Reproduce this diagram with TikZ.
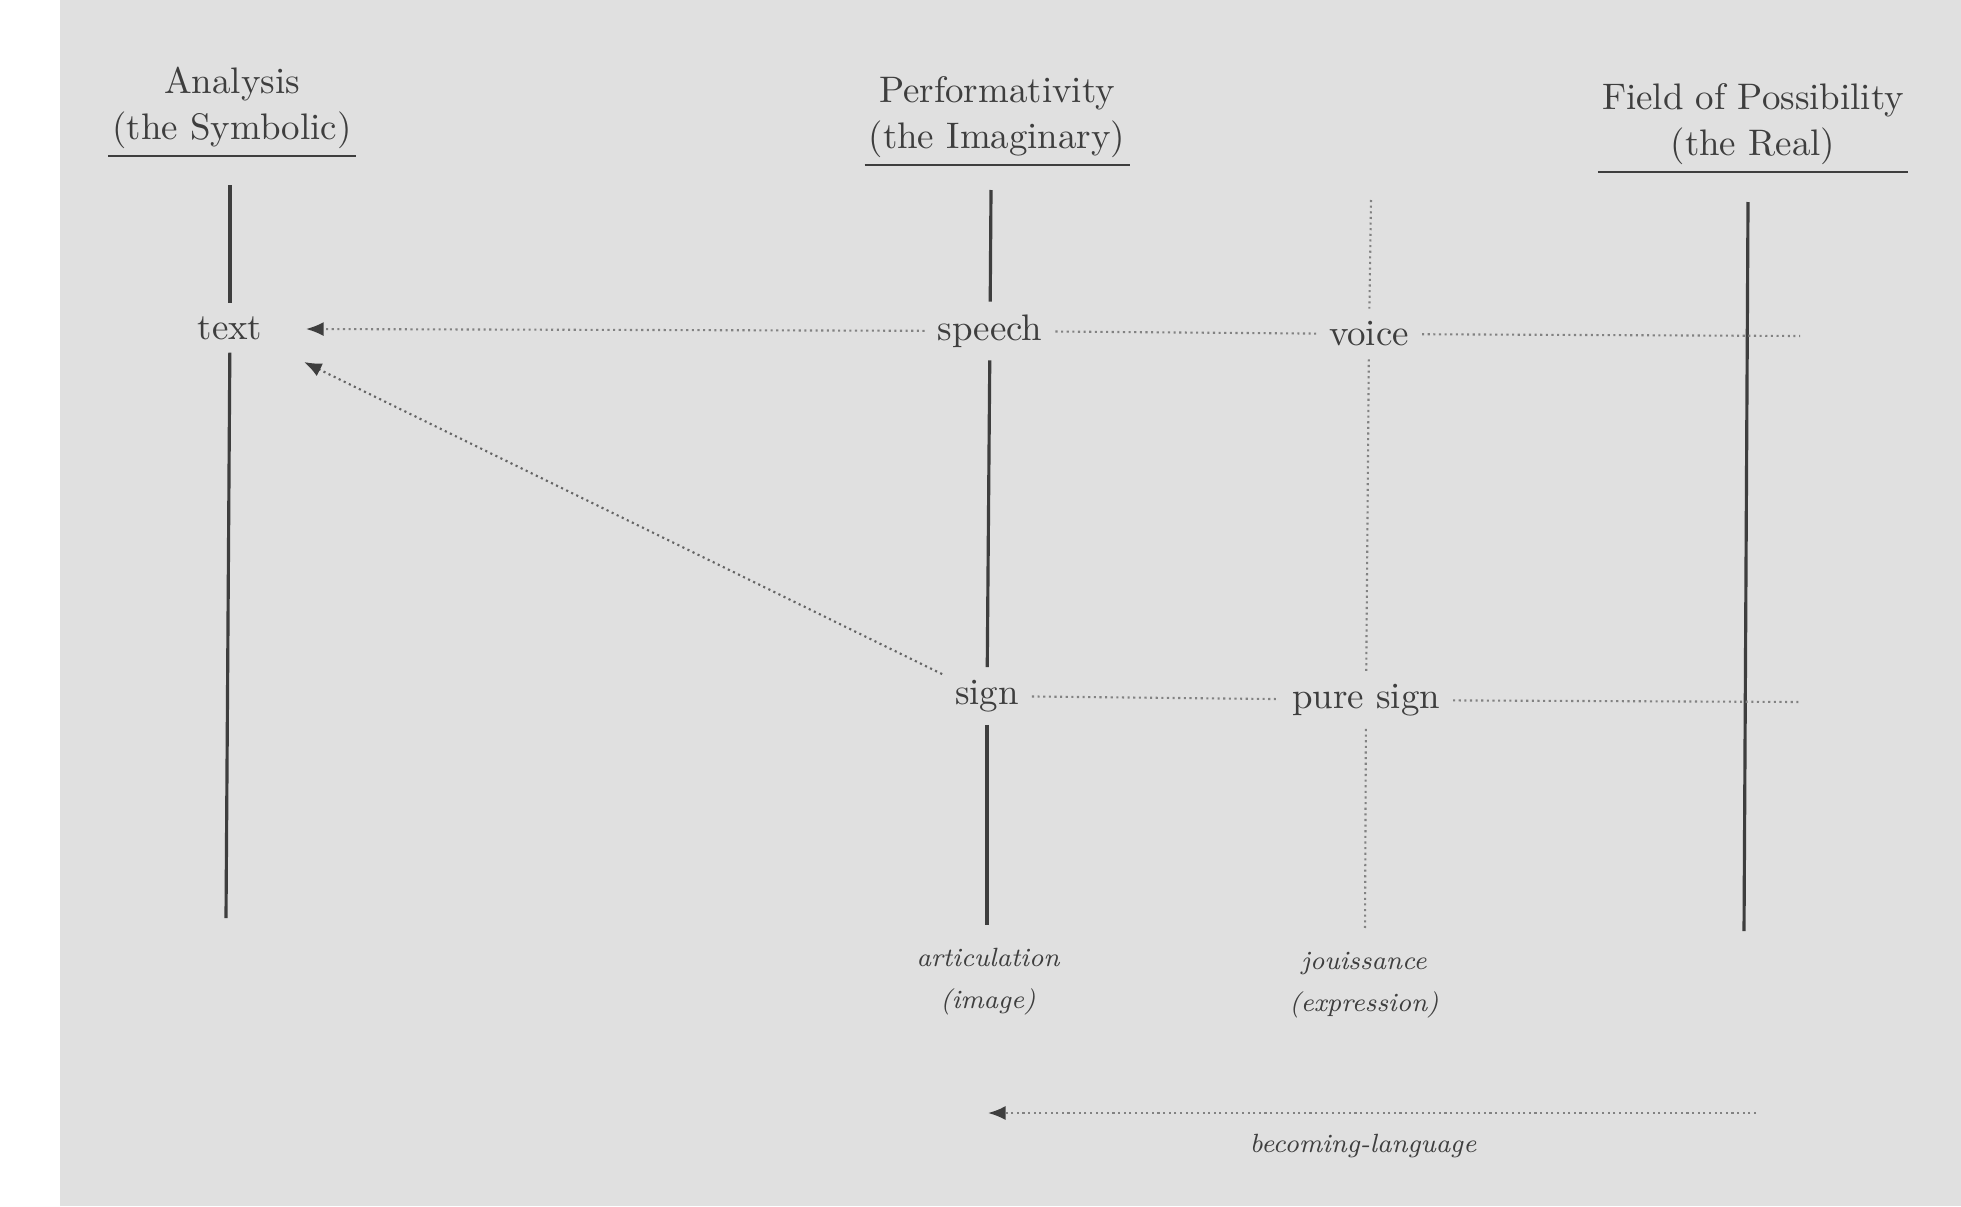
\documentclass[tikz,border=0pt]{standalone}
\usetikzlibrary{arrows.meta}
\definecolor{pagegray}{RGB}{224,224,224}
\definecolor{ink}{RGB}{62,62,62}
\begin{document}
\begin{tikzpicture}[
        x=0.01cm, y=-0.01cm, % one unit is one pixel of the page
        every node/.style={text=ink, font=\fontsize{10.5}{13}\selectfont},
        head/.style={align=center, inner xsep=1pt, inner ysep=2pt, anchor=south},
        term/.style={inner sep=3.5pt},
        note/.style={font=\fontsize{7.5}{12}\selectfont\itshape, align=center},
        axis/.style={draw=ink, line width=0.9pt},
        dotline/.style={draw=ink!65, densely dotted, line width=0.6pt},
        tip/.style={-{Latex[length=5pt,width=4pt,color=ink]}}
    ]
    % page
    \useasboundingbox (0,0) rectangle (1961,1206);
    \fill[white] (0,0) rectangle (1961,1206);
    \fill[pagegray] (60,0) rectangle (1961,1206);

    % headings
    \node[head] (hdsym) at (232,156) {Analysis\\(the Symbolic)};
    \node[head] (hdimg) at (997,165) {Performativity\\(the Imaginary)};
    \node[head] (hdreal) at (1753,172) {Field of Possibility\\(the Real)};
    \draw[ink, line width=0.6pt] (hdsym.south west) -- (hdsym.south east);
    \draw[ink, line width=0.6pt] (hdimg.south west) -- (hdimg.south east);
    \draw[ink, line width=0.6pt] (hdreal.south west) -- (hdreal.south east);

    % terms
    \node[term] (txt) at (230,328) {text};
    \node[term] (speech) at (990,331) {speech};
    \node[term] (voice) at (1369,334) {voice};
    \node[term] (sign) at (987,696) {sign};
    \node[term] (puresign) at (1366,700) {pure sign};

    \node[note] (artic) at (988,982) {articulation\\(image)};
    \node[note] (jouis) at (1364,985) {jouissance\\(expression)};
    \node[note] (becoming) at (1363,1146) {becoming-language};

    % ends of the lines
    \coordinate (symtop) at (230,185);
    \coordinate (symbot) at (226,918);
    \coordinate (imgtop) at (991,190);
    \coordinate (imgbot) at (987,925);
    \coordinate (jtop) at (1371,200);
    \coordinate (jbot) at (1365,930);
    \coordinate (realtop) at (1748,202);
    \coordinate (realbot) at (1744,931);
    \coordinate (txtin) at (306,329);
    \coordinate (txtlow) at (304,362);
    \coordinate (voiceend) at (1800,336);
    \coordinate (signend) at (1800,702);
    \coordinate (langstart) at (1756,1113);
    \coordinate (langend) at (988,1113);

    % verticals
    \draw[axis] (symtop) -- (txt);
    \draw[axis] (txt) -- (symbot);
    \draw[axis] (imgtop) -- (speech);
    \draw[axis] (speech) -- (sign);
    \draw[axis] (sign) -- (imgbot);
    \draw[axis] (realtop) -- (realbot);
    \draw[dotline] (jtop) -- (voice);
    \draw[dotline] (voice) -- (puresign);
    \draw[dotline] (puresign) -- (jbot);

    % horizontals
    \draw[dotline, tip] (speech) -- (txtin);
    \draw[dotline, draw=ink!80, tip] (sign) -- (txtlow);
    \draw[dotline] (speech) -- (voice);
    \draw[dotline] (voice) -- (voiceend);
    \draw[dotline] (sign) -- (puresign);
    \draw[dotline] (puresign) -- (signend);
    \draw[dotline, tip] (langstart) -- (langend);
\end{tikzpicture}
\end{document}
